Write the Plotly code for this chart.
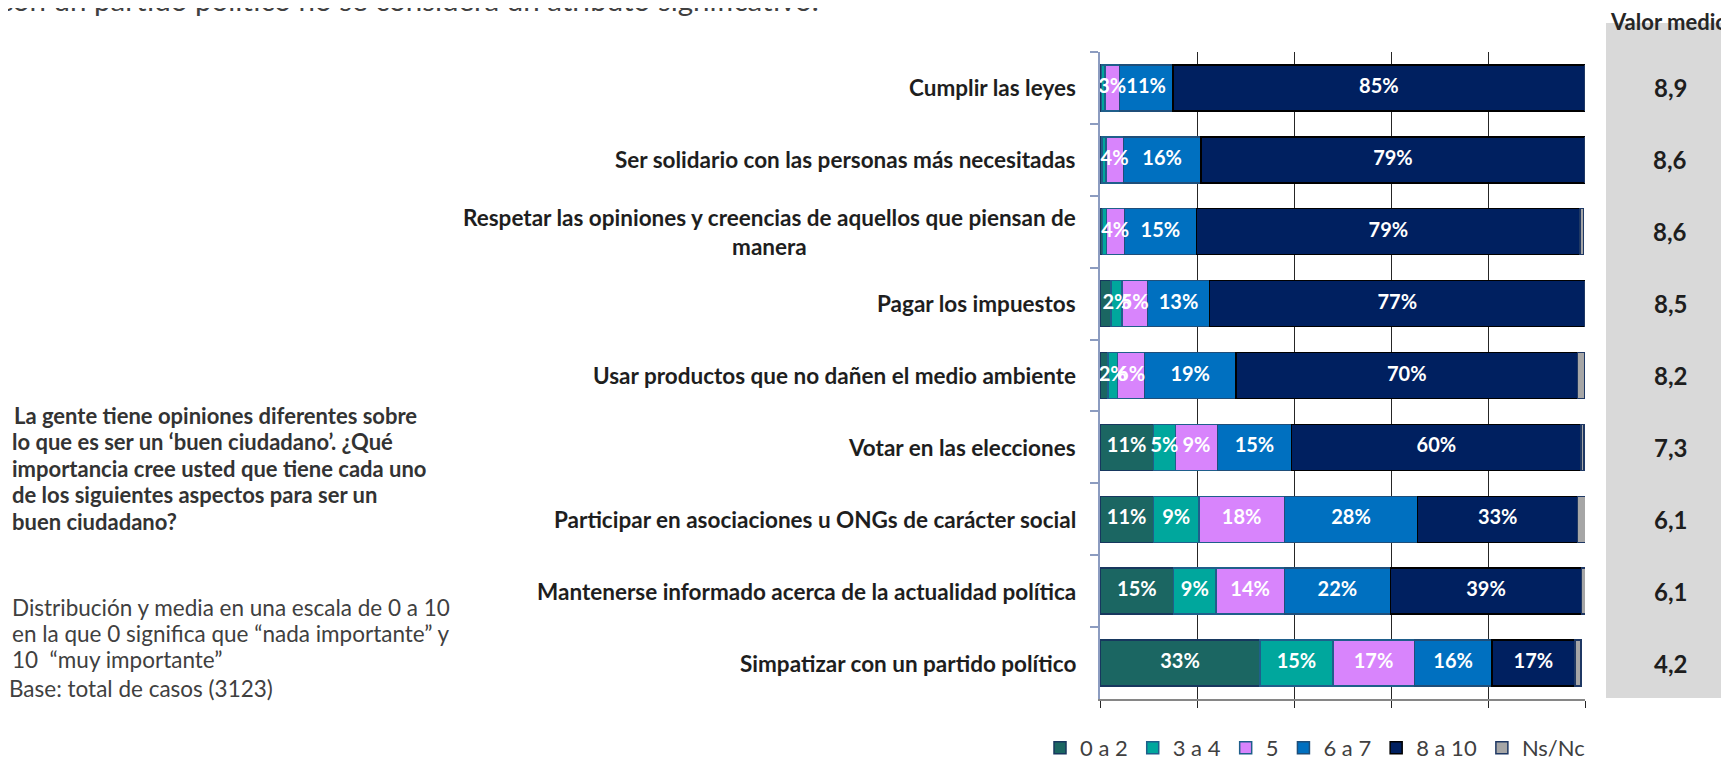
import plotly.graph_objects as go

# ---------------- data ----------------
categories = [
    "Cumplir las leyes",
    "Ser solidario con las personas más necesitadas",
    "Respetar las opiniones y creencias de aquellos que piensan de<br>manera",
    "Pagar los impuestos",
    "Usar productos que no dañen el medio ambiente",
    "Votar en las elecciones",
    "Participar en asociaciones u ONGs de carácter social",
    "Mantenerse informado acerca de la actualidad política",
    "Simpatizar con un partido político",
]
series_names = ["0 a 2", "3 a 4", "5", "6 a 7", "8 a 10", "Ns/Nc"]
v_0a2 = [0.3, 0.4, 0.5, 2.3, 1.6, 11.0, 11.0, 15.2, 33.0]
v_3a4 = [0.7, 0.8, 0.8, 2.2, 2.0, 4.6, 9.4, 8.7, 15.0]
v_5 = [3.0, 3.6, 3.7, 5.3, 5.6, 8.6, 17.6, 14.1, 16.8]
v_6a7 = [11.0, 16.0, 14.9, 12.8, 18.8, 15.3, 27.5, 21.9, 16.0]
v_8a10 = [85.0, 79.2, 79.1, 77.4, 70.5, 59.7, 33.0, 39.4, 17.1]
v_ns = [0.0, 0.0, 0.7, 0.0, 1.4, 0.6, 2.0, 0.8, 1.3]
mean_values = ["8,9", "8,6", "8,6", "8,5", "8,2", "7,3", "6,1", "6,1", "4,2"]

question_lines = [
    "La gente tiene opiniones diferentes sobre",
    "lo que es ser un ‘buen ciudadano’. ¿Qué",
    "importancia cree usted que tiene cada uno",
    "de los siguientes aspectos para ser un",
    "buen ciudadano?",
]
note_lines = [
    "Distribución y media en una escala de 0 a 10",
    "en la que 0 significa que “nada importante” y",
    "10  “muy importante”",
    "Base: total de casos (3123)",
]
top_text = "con un partido político no se considera un atributo significativo."
panel_title = "Valor medio"

# ---------------- style ----------------
values = [v_0a2, v_3a4, v_5, v_6a7, v_8a10, v_ns]
colors = ["#1B6662", "#00A79D", "#D884FC", "#0070C0", "#002060", "#A6A6A6"]
line_colors = ["#17375E", "#1F5F8B", "#1F5F8B", "#1F4E79", "#000000", "#1F3864"]
min_label = [5, 1.95, 1.95, 1.95, 1.95, 101]

# page geometry (the page body has an 8px margin)
OFF = 8
PAGE_W, PAGE_H = 1729, 762
W, H = PAGE_W - OFF, PAGE_H - OFF
L, R, T, B = 1100, 1585, 52, 699  # plot area in page pixels


def px_x(p):
    return (p - L) / (R - L)


def px_y(p):
    return (B - p) / (B - T)


FONT = "Lato, 'Open Sans', sans-serif"

fig = go.Figure()

for name, vals, col, lc in zip(series_names, values, colors, line_colors):
    fig.add_trace(go.Bar(
        name=name, y=categories, x=vals, orientation="h",
        marker=dict(color=col, line=dict(color=lc, width=1.5)),
        hoverinfo="x+name",
    ))

# labels on top of all segments
cum = [0.0] * len(categories)
for vals, thr in zip(values, min_label):
    xs, ys, ts = [], [], []
    for i, v in enumerate(vals):
        if v >= thr:
            xs.append(cum[i] + v / 2)
            ys.append(categories[i])
            ts.append(f"{round(v):d}%")
        cum[i] += v
    fig.add_trace(go.Scatter(
        x=xs, y=ys, text=ts, mode="text", showlegend=False,
        textfont=dict(family=FONT, size=20, color="white", weight="bold"),
        hoverinfo="skip", cliponaxis=False,
    ))

annotations = []
# category labels
for c in categories:
    annotations.append(dict(
        x=px_x(1078), xref="paper", y=c, yref="y", text=f"<b>{c}</b>",
        showarrow=False, xanchor="right", yanchor="middle", align="center",
        font=dict(family=FONT, size=22.5, color="#1E1E1E"),
    ))
# mean values
for c, m in zip(categories, mean_values):
    annotations.append(dict(
        x=px_x(1670), xref="paper", y=c, yref="y", text=f"<b>{m}</b>",
        showarrow=False, xanchor="center", yanchor="middle",
        font=dict(family=FONT, size=24, color="#1E1E1E"),
    ))
annotations.append(dict(
    x=px_x(1608), xref="paper", y=px_y(21), yref="paper", text=f"<b>{panel_title}</b>",
    showarrow=False, xanchor="left", yanchor="middle",
    font=dict(family=FONT, size=22, color="#262626"),
))
# question block
q_y = [415, 441.5, 468, 494.5, 521]
q_x = [12, 10, 10, 10, 10]
for t, yy, xx in zip(question_lines, q_y, q_x):
    annotations.append(dict(
        x=px_x(xx), xref="paper", y=px_y(yy), yref="paper", text=f"<b>{t}</b>",
        showarrow=False, xanchor="left", yanchor="middle",
        font=dict(family=FONT, size=22, color="#333333"),
    ))
n_y = [607, 633, 659, 688]
n_x = [10, 10, 10, 7]
for t, yy, xx in zip(note_lines, n_y, n_x):
    annotations.append(dict(
        x=px_x(xx), xref="paper", y=px_y(yy), yref="paper", text=t,
        showarrow=False, xanchor="left", yanchor="middle",
        font=dict(family=FONT, size=22.5, color="#404040"),
    ))
annotations.append(dict(
    x=px_x(-3), xref="paper", y=px_y(-1), yref="paper", text=top_text,
    showarrow=False, xanchor="left", yanchor="middle",
    font=dict(family=FONT, size=29.5, color="#404040"),
))

fig.update_layout(
    width=W, height=H,
    margin=dict(l=L - OFF, r=PAGE_W - R, t=T - OFF, b=PAGE_H - B, autoexpand=False),
    barmode="stack", bargap=0.36,
    paper_bgcolor="white", plot_bgcolor="white",
    font=dict(family=FONT, color="#404040"),
    showlegend=True,
    legend=dict(
        orientation="h", x=px_x(1590), y=px_y(748), xanchor="right", yanchor="middle",
        font=dict(family=FONT, size=22, color="#404040"), traceorder="normal",
        itemwidth=30, itemclick=False, bgcolor="rgba(0,0,0,0)",
    ),
    xaxis=dict(
        range=[0, 100], dtick=20, showgrid=True, gridcolor="#262626", gridwidth=1,
        showticklabels=False, ticks="outside", ticklen=7, tickcolor="#262626",
        showline=True, linecolor="#868686", linewidth=2, zeroline=False,
        fixedrange=True,
    ),
    yaxis=dict(
        categoryorder="array", categoryarray=categories, autorange="reversed",
        showticklabels=False, ticks="outside", tickson="boundaries", ticklen=8,
        tickcolor="#8C9CC0", tickwidth=2, showline=True, linecolor="#8C9CC0",
        linewidth=2, showgrid=False, fixedrange=True,
    ),
    annotations=annotations,
    shapes=[dict(
        type="rect", xref="paper", yref="paper", layer="below",
        x0=px_x(1606), x1=px_x(1760), y0=px_y(698), y1=px_y(23),
        fillcolor="#D9D9D9", line=dict(width=0),
    )],
)

fig.write_html("out.html")
